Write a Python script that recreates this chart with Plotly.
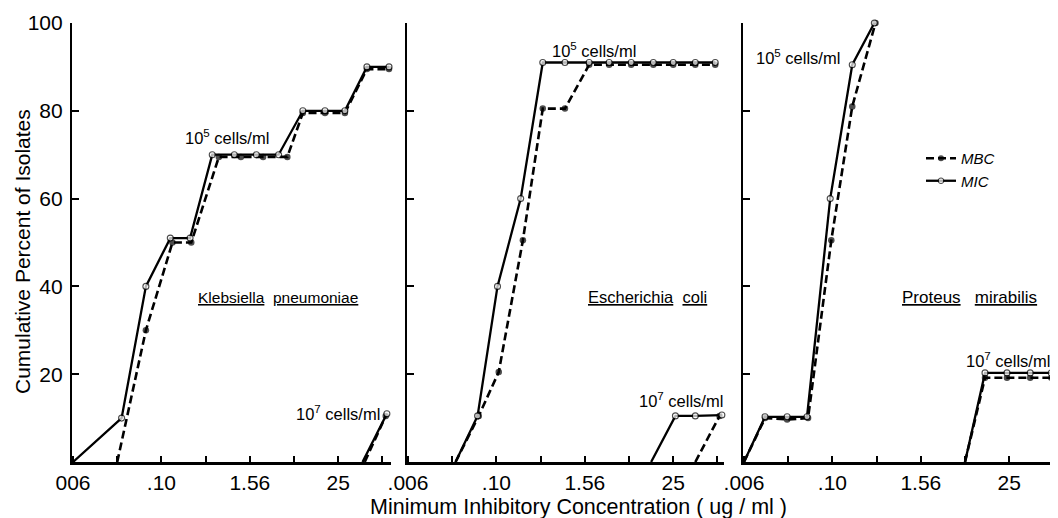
import math
import plotly.graph_objects as go

# ---------------- data (concentration ug/ml, cumulative percent of isolates) ----------------
major_tick_vals = [0.0061, 0.0976, 1.5625, 25]
minor_tick_vals = [0.0244, 0.39, 6.25, 100]
tick_text_p1 = ["006", ".10", "1.56", "25"]
tick_text = [".006", ".10", "1.56", "25"]
y_ticks = [20, 40, 60, 80, 100]

# Klebsiella pneumoniae
kleb_mic_105_conc = [0.0061, 0.028, 0.060, 0.129, 0.240, 0.481, 0.961, 1.92, 3.85, 8.24, 16.5, 30.8, 61.5, 123]
kleb_mic_105_pct = [0, 10, 40, 51, 51, 70, 70, 70, 70, 80, 80, 80, 90, 90]
kleb_mbc_105_conc = [0.0244, 0.060, 0.138, 0.249, 0.592, 1.18, 2.37, 5.07, 8.24, 16.5, 30.8, 61.5, 123]
kleb_mbc_105_pct = [0, 30, 50, 50, 69.5, 69.5, 69.5, 69.5, 79.5, 79.5, 79.5, 89.5, 89.5]
kleb_mic_107_conc = [53.6, 115]
kleb_mic_107_pct = [0, 11]
kleb_mbc_107_conc = [57.4, 111]
kleb_mbc_107_pct = [0, 10.5]

# Escherichia coli
ecoli_mic_105_conc = [0.0271, 0.0541, 0.101, 0.209, 0.418, 0.837, 1.79, 3.35, 6.69, 13.4, 25.0, 50.0, 93.3]
ecoli_mic_105_pct = [0, 10.5, 40, 60, 91, 91, 91, 91, 91, 91, 91, 91, 91]
ecoli_mbc_105_conc = [0.0271, 0.0561, 0.105, 0.224, 0.418, 0.837, 1.79, 3.35, 6.69, 13.4, 25.0, 50.0, 93.3]
ecoli_mbc_105_pct = [0, 10.5, 20.5, 50.5, 80.5, 80.5, 90.5, 90.5, 90.5, 90.5, 90.5, 90.5, 90.5]
ecoli_mic_107_conc = [12.5, 26.8, 50.0, 115]
ecoli_mic_107_pct = [0, 10.5, 10.5, 10.7]
ecoli_mbc_107_conc = [50.0, 107]
ecoli_mbc_107_pct = [0, 10.5]

# Proteus mirabilis
prot_mic_105_conc = [0.0061, 0.0118, 0.0236, 0.0440, 0.0911, 0.182, 0.364]
prot_mic_105_pct = [0, 10.3, 10.3, 10.3, 60, 90.5, 100]
prot_mbc_105_conc = [0.0061, 0.0118, 0.0236, 0.0455, 0.0943, 0.182, 0.377]
prot_mbc_105_pct = [0, 10, 9.7, 10, 50.5, 81, 100]
prot_mic_107_conc = [6.25, 11.7, 23.3, 48.3, 93.3]
prot_mic_107_pct = [0, 20.3, 20.3, 20.3, 20.3]
prot_mbc_107_conc = [6.25, 11.7, 23.3, 48.3, 93.3]
prot_mbc_107_pct = [0, 19.2, 19.2, 19.2, 19.2]

# ---------------- layout helpers ----------------
OFF = 8                     # page body margin
W, H = 1058 - OFF, 518 - OFF
FONT = "Liberation Sans"
STEP_PX = 22.1
BASE = 0.0061


def pxx(x):
    return (x - OFF) / W


def pxy(y):
    return 1 - (y - OFF) / H


panels = [
    # (axis start pixel in window, lo step, hi step, tick text)
    (73, -0.05, 14.4, tick_text_p1),
    (408, -0.05, 14.3, tick_text),
    (744, -0.05, 14.1, tick_text),
]

fig = go.Figure()


def add_series(conc, pct, kind, idx, show=False):
    axis_suffix = "" if idx == 1 else str(idx)
    if kind == "MIC":
        sizes = [0 if v == 0 else 6 for v in pct]
        line = dict(color="black", width=2.3)
        marker = dict(symbol="circle", size=sizes, color="white", line=dict(color="black", width=1.1))
        name = "<i>MIC</i>"
    else:
        sizes = [0 if v == 0 else 6.5 for v in pct]
        line = dict(color="black", width=2.6, dash="8px,4px")
        marker = dict(symbol="circle", size=sizes, color="black", line=dict(color="black", width=0))
        name = "<i>MBC</i>"
    fig.add_trace(go.Scatter(
        x=conc, y=pct, mode="lines+markers", line=line, marker=marker,
        name=name, legendgroup=kind, showlegend=show, cliponaxis=False,
        xaxis="x" + axis_suffix, yaxis="y" + axis_suffix,
    ))


# MBC first, MIC on top
add_series(kleb_mbc_105_conc, kleb_mbc_105_pct, "MBC", 1, show=True)
add_series(kleb_mbc_107_conc, kleb_mbc_107_pct, "MBC", 1)
add_series(ecoli_mbc_105_conc, ecoli_mbc_105_pct, "MBC", 2)
add_series(ecoli_mbc_107_conc, ecoli_mbc_107_pct, "MBC", 2)
add_series(prot_mbc_105_conc, prot_mbc_105_pct, "MBC", 3)
add_series(prot_mbc_107_conc, prot_mbc_107_pct, "MBC", 3)
add_series(kleb_mic_105_conc, kleb_mic_105_pct, "MIC", 1, show=True)
add_series(kleb_mic_107_conc, kleb_mic_107_pct, "MIC", 1)
add_series(ecoli_mic_105_conc, ecoli_mic_105_pct, "MIC", 2)
add_series(ecoli_mic_107_conc, ecoli_mic_107_pct, "MIC", 2)
add_series(prot_mic_105_conc, prot_mic_105_pct, "MIC", 3)
add_series(prot_mic_107_conc, prot_mic_107_pct, "MIC", 3)

layout = dict(
    width=W, height=H,
    margin=dict(l=0, r=0, t=0, b=0, pad=0, autoexpand=False),
    paper_bgcolor="white", plot_bgcolor="white",
    font=dict(family=FONT, color="black", size=20),
    legend=dict(x=pxx(921), y=pxy(142), xanchor="left", yanchor="top",
                bgcolor="rgba(0,0,0,0)", font=dict(size=15, family=FONT),
                itemwidth=30, tracegroupgap=0, traceorder="normal"),
)

y_dom = [pxy(462), pxy(23)]
for i, (x0, lo, hi, ttext) in enumerate(panels, start=1):
    lo_log = math.log10(BASE) + lo * math.log10(2)
    hi_log = math.log10(BASE) + hi * math.log10(2)
    dom = [pxx(x0 + lo * STEP_PX), pxx(x0 + hi * STEP_PX)]
    sfx = "" if i == 1 else str(i)
    layout["xaxis" + sfx] = dict(
        type="log", range=[lo_log, hi_log], domain=dom, anchor="y" + sfx,
        tickmode="array", tickvals=major_tick_vals, ticktext=ttext,
        ticks="inside", ticklen=6, tickwidth=1.5, tickcolor="black",
        minor=dict(tickmode="array", tickvals=minor_tick_vals, ticks="inside",
                   ticklen=6, tickwidth=1.5, tickcolor="black", showgrid=False),
        showline=True, linecolor="black", linewidth=2.5,
        showgrid=False, zeroline=False, fixedrange=True, automargin=False,
        tickfont=dict(size=21, family=FONT),
    )
    layout["yaxis" + sfx] = dict(
        range=[0, 100], domain=y_dom, anchor="x" + sfx,
        tickmode="array", tickvals=y_ticks,
        showticklabels=(i == 1), ticklabelstandoff=3,
        ticks="inside", ticklen=7, tickwidth=1.5, tickcolor="black",
        showline=True, linecolor="black", linewidth=2,
        showgrid=False, zeroline=False, fixedrange=True, automargin=False,
        tickfont=dict(size=21, family=FONT),
    )

fig.update_layout(**layout)


def note(text, x, y, size=16.5, xanchor="center", angle=0):
    fig.add_annotation(text=text, x=pxx(x), y=pxy(y), xref="paper", yref="paper",
                       xanchor=xanchor, yanchor="middle", showarrow=False,
                       textangle=angle, font=dict(size=size, family=FONT, color="black"))


note("10<sup>5</sup> cells/ml", 227, 137)
note("<u>Klebsiella</u>  <u>pneumoniae</u>", 278, 297, size=15.5)
note("10<sup>7</sup> cells/ml", 382, 413, xanchor="right")
note("10<sup>5</sup> cells/ml", 594, 50)
note("<u>Escherichia</u>  <u>coli</u>", 647, 297, size=16.5)
note("10<sup>7</sup> cells/ml", 681, 400)
note("10<sup>5</sup> cells/ml", 798, 57)
note("<u>Proteus</u>   <u>mirabilis</u>", 969, 297, size=17)
note("10<sup>7</sup> cells/ml", 1008, 360)
note("Cumulative Percent of Isolates", 22, 252, size=21, angle=-90)
note("Minimum Inhibitory Concentration ( ug / ml )", 578, 507, size=21.5)

fig.write_html("out.html")
